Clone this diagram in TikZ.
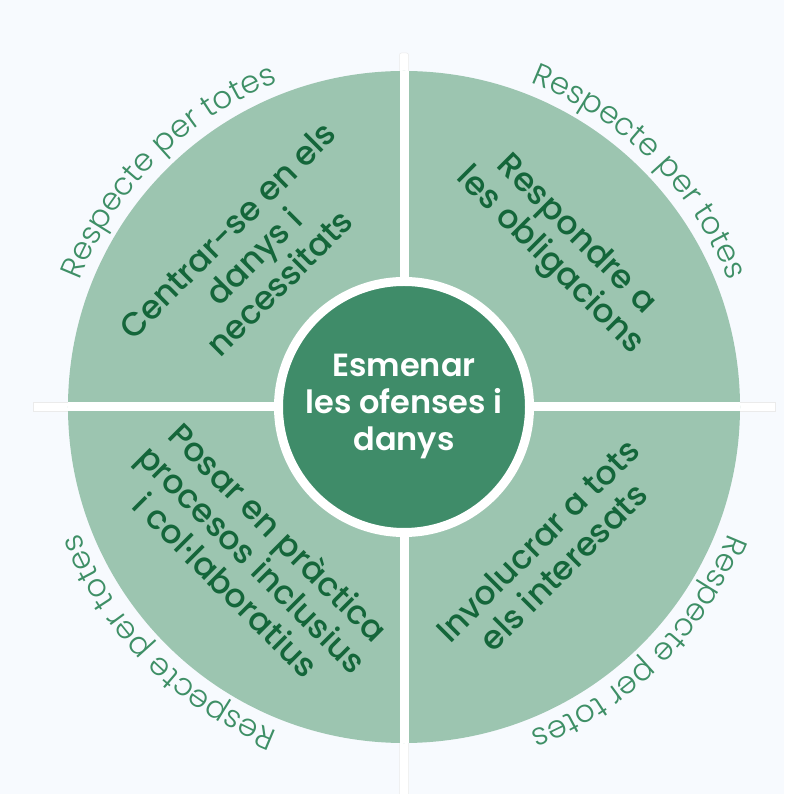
\documentclass[tikz,border=0pt]{standalone}
\usepackage{fontspec}
\setmainfont{Poppins}
\newfontfamily\medfont{Poppins Medium}
\newfontfamily\semifont{Poppins SemiBold}
\newfontfamily\lightfont{Poppins Light}
\usetikzlibrary{decorations.text}

\definecolor{paper}{HTML}{F7FAFE}
\definecolor{leaf}{HTML}{9CC5B0}
\definecolor{core}{HTML}{3F8C69}
\definecolor{ink}{HTML}{14663A}
\definecolor{rim}{HTML}{3E8F66}

\tikzset{
	bar/.style={fill=white, draw=black!8, line width=0.5pt},
	quadtext/.style={text=ink, align=center, font=\fontsize{33}{37}\selectfont\medfont},
	coretext/.style={circle, fill=core, draw=white, line width=9pt, minimum size=251pt, text=white, align=center, font=\fontsize{32}{37}\selectfont\semifont},
	rimtext/.style={decorate, decoration={text along path, text align=center, text color=rim, text={|\fontsize{31}{34}\selectfont\lightfont|Respecte per totes}}}
}

\begin{document}
\begin{tikzpicture}[x=1pt, y=1pt]
	\fill[paper] (-404, -387) rectangle (380, 407);
	\useasboundingbox (-404, -387) rectangle (380, 407);
	% white cross, seen outside the disc
	\draw[bar] (-371, -4.5) rectangle (371, 4.5);
	\draw[bar, rounded corners=2pt] (-4.5, -392) rectangle (4.5, 354);
	% four quarters
	\fill[leaf] (0, 0) circle[radius=336];
	\fill[white] (-336, -4.5) rectangle (336, 4.5);
	\fill[white] (-4.5, -336) rectangle (4.5, 336);
	% text round the rim
	\foreach \a in {180, 90, 0, -90}
		\path[rimtext] (\a:348) arc[start angle=\a, end angle=\a-90, radius=348];
	% centre and quarters
	\node[coretext] (core) at (0, 0) {Esmenar\\les ofenses i\\danys};
	\node[quadtext, rotate=45] (harms) at (135:213) {Centrar-se en els\\danys i\\necessitats};
	\node[quadtext, rotate=-45] (duties) at (45:224) {Respondre a\\les obligacions};
	\node[quadtext, rotate=45] (parties) at (-45:207) {Involucrar a tots\\els interesats};
	\node[quadtext, rotate=-45] (process) at (-135:214) {Posar en pràctica\\procesos inclusius\\i col·laboratius};
\end{tikzpicture}
\end{document}
